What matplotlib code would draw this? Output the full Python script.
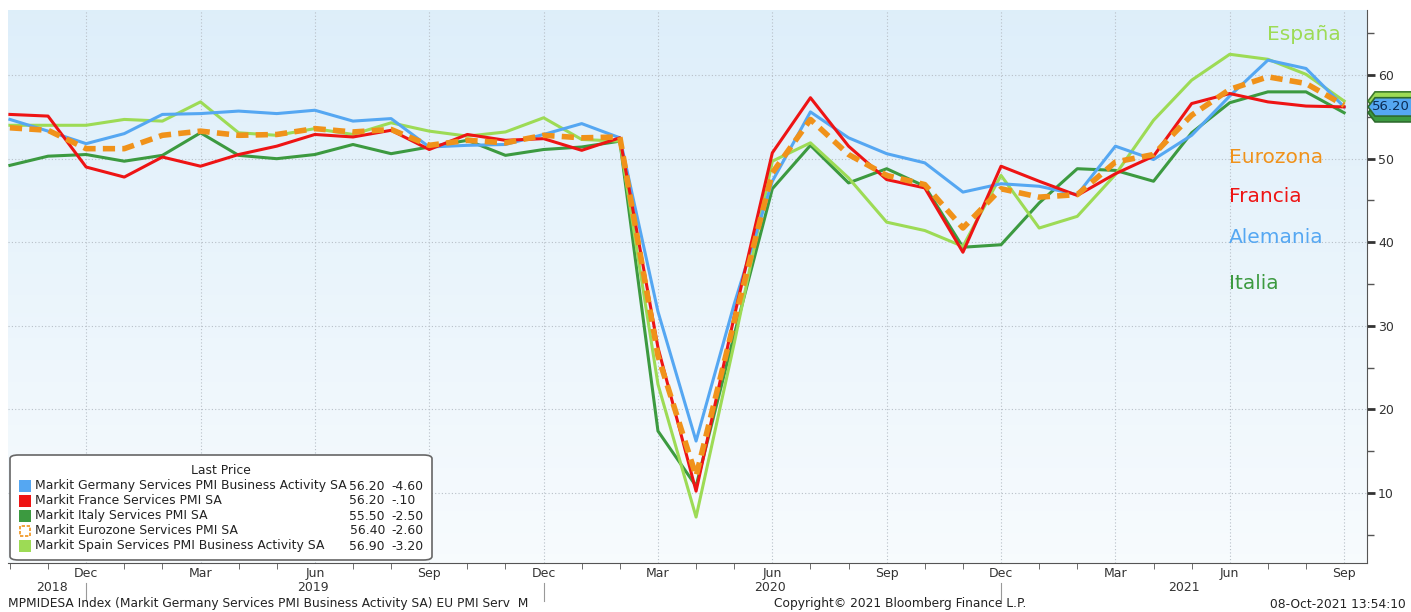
import matplotlib
matplotlib.use("Agg")
import matplotlib.pyplot as plt
import matplotlib.transforms as mtransforms
from matplotlib.patches import FancyBboxPatch, Rectangle, Polygon
import numpy as np

# monthly data, Oct 2018 .. Sep 2021
months = ["Oct", "Nov", "Dec", "Jan", "Feb", "Mar", "Apr", "May", "Jun", "Jul", "Aug", "Sep"] * 3
germany = [54.7, 53.3, 51.8, 53.0, 55.3, 55.4, 55.7, 55.4, 55.8, 54.5, 54.8, 51.4,
           51.6, 51.7, 52.9, 54.2, 52.5, 31.7, 16.2, 32.6, 47.3, 55.6, 52.5, 50.6,
           49.5, 46.0, 47.0, 46.7, 45.7, 51.5, 49.9, 52.8, 57.5, 61.8, 60.8, 56.2]
france = [55.3, 55.1, 49.0, 47.8, 50.2, 49.1, 50.5, 51.5, 52.9, 52.6, 53.4, 51.1,
          52.9, 52.2, 52.4, 51.0, 52.5, 27.4, 10.2, 31.1, 50.7, 57.3, 51.5, 47.5,
          46.5, 38.8, 49.1, 47.3, 45.6, 48.2, 50.3, 56.6, 57.8, 56.8, 56.3, 56.2]
italy = [49.2, 50.3, 50.5, 49.7, 50.4, 53.1, 50.4, 50.0, 50.5, 51.7, 50.6, 51.4,
         52.2, 50.4, 51.1, 51.4, 52.1, 17.4, 10.8, 28.9, 46.4, 51.6, 47.1, 48.8,
         46.7, 39.4, 39.7, 44.7, 48.8, 48.6, 47.3, 53.1, 56.7, 58.0, 58.0, 55.5]
eurozone = [53.7, 53.4, 51.2, 51.2, 52.8, 53.3, 52.8, 52.9, 53.6, 53.2, 53.5, 51.6,
            52.2, 51.9, 52.8, 52.5, 52.6, 26.4, 12.0, 30.5, 48.3, 54.7, 50.5, 48.0,
            46.9, 41.7, 46.4, 45.4, 45.7, 49.6, 50.5, 55.2, 58.3, 59.8, 59.0, 56.4]
spain = [54.0, 54.0, 54.0, 54.7, 54.5, 56.8, 53.1, 52.8, 53.6, 52.9, 54.3, 53.3,
         52.7, 53.2, 54.9, 52.3, 52.1, 23.0, 7.1, 27.9, 49.7, 51.9, 47.7, 42.4,
         41.4, 39.5, 48.0, 41.7, 43.1, 48.1, 54.6, 59.4, 62.5, 61.9, 60.1, 56.9]
years = ["2018", "2019", "2020", "2021"]
year_pos = [1.1, 7.95, 19.95, 30.8]

legend_names = ["Markit Germany Services PMI Business Activity SA",
                "Markit France Services PMI SA",
                "Markit Italy Services PMI SA",
                "Markit Eurozone Services PMI SA",
                "Markit Spain Services PMI Business Activity SA"]
changes = ["-4.60", "-.10", "-2.50", "-2.60", "-3.20"]

c_ger = "#55a7f2"
c_fra = "#ee1414"
c_ita = "#3c9a40"
c_eur = "#f0921a"
c_spa = "#9ddb55"

W, H = 1411, 612
fig = plt.figure(figsize=(W / 100, H / 100), dpi=100)
plt.rcParams['font.family'] = ['DejaVu Sans']

def fx(px):
    return px / W

def fy(py):
    return 1 - py / H

ax = fig.add_axes([fx(8), fy(563), fx(1367) - fx(8), fy(10) - fy(563)])
x = np.arange(len(germany))

# background gradient
grad = np.linspace(0, 1, 256).reshape(-1, 1)
top = np.array([0.87, 0.935, 0.98])
bot = np.array([0.97, 0.985, 0.995])
img = top * (1 - grad[..., None]) + bot * grad[..., None]
img = np.repeat(img, 2, axis=1)
ax.imshow(img, extent=[0, 1, 0, 1], transform=ax.transAxes, aspect="auto", zorder=0)

ax.plot(x, italy, color=c_ita, lw=2.2, zorder=3)
ax.plot(x, spain, color=c_spa, lw=2.2, zorder=3)
ax.plot(x, germany, color=c_ger, lw=2.2, zorder=3)
ax.plot(x, france, color=c_fra, lw=2.2, zorder=4)
ax.plot(x, eurozone, color=c_eur, lw=4, dashes=(2.2, 1.3), zorder=5)

ax.set_xlim(-0.05, 35.6)
ax.set_ylim(1.6, 67.8)

# axes style
for s in ["left", "top"]:
    ax.spines[s].set_visible(False)
ax.spines["right"].set_color("#555555")
ax.spines["bottom"].set_color("#555555")
ax.yaxis.tick_right()
ax.set_yticks([10, 20, 30, 40, 50, 60])
ax.set_yticks([5, 15, 25, 35, 45, 55, 65], minor=True)
ax.tick_params(axis="y", which="major", direction="out", length=6, width=2,
               color="#333333", labelsize=9, pad=2, labelcolor="#333333")
ax.tick_params(axis="y", which="minor", direction="out", length=5, width=1, color="#555555")

q = [i for i in x if months[i] in ("Dec", "Mar", "Jun", "Sep")]
ax.set_xticks(q)
ax.set_xticklabels([months[i] for i in q])
ax.set_xticks(x, minor=True)
ax.tick_params(axis="x", which="major", length=0, labelsize=9, pad=3, labelcolor="#333333")
ax.tick_params(axis="x", which="minor", direction="out", length=4, color="#555555")
ax.grid(True, which="major", color="#b8c0c8", linestyle=(0, (1, 2)), lw=0.8, zorder=1)

# year labels and separators
tr = ax.get_xaxis_transform()
for yl, yp in zip(years, year_pos):
    ax.text(yp, -0.045, yl, transform=tr, ha="center", va="center", fontsize=9, color="#333333")
for i in x:
    if months[i] == "Dec":
        ax.plot([i, i], [-0.036, -0.068], transform=tr, color="#999999", lw=0.8, clip_on=False)

# series names on the right
ax.text(32.98, 64.9, "España", color=c_spa, fontsize=14.5, va="center", ha="left")
ax.text(31.97, 50.2, "Eurozona", color=c_eur, fontsize=14.5, va="center", ha="left")
ax.text(31.97, 45.5, "Francia", color=c_fra, fontsize=14.5, va="center", ha="left")
ax.text(31.97, 40.6, "Alemania", color=c_ger, fontsize=14.5, va="center", ha="left")
ax.text(31.97, 35.0, "Italia", color=c_ita, fontsize=14.5, va="center", ha="left")

# last value tags: green ones behind, blue one with text on top
ptr = mtransforms.blended_transform_factory(fig.transFigure, ax.transData)
def tag_shape(val, fc, ec, z):
    h = 1.1
    pts = [(fx(1368), val), (fx(1375), val + h), (fx(1412), val + h),
           (fx(1412), val - h), (fx(1375), val - h)]
    ax.add_patch(Polygon(pts, closed=True, transform=ptr, fc=fc, ec=ec, lw=1.2,
                         clip_on=False, zorder=z))

tag_shape(spain[-1], c_spa, "#3d7a2e", 6)
tag_shape(italy[-1], c_ita, "#2e6b2e", 6)
tag_shape(germany[-1], c_ger, "#2e6b2e", 7)
ax.text(fx(1391), germany[-1], f"{germany[-1]:.2f}", transform=ptr, fontsize=9.5, color="#0c2c55",
        va="center", ha="center", clip_on=False, zorder=8)

# legend box
box = FancyBboxPatch((fx(10), fy(560)), fx(432) - fx(10), fy(455) - fy(560),
                     boxstyle="round,pad=0,rounding_size=0.006", transform=fig.transFigure,
                     fc="white", ec="#666666", lw=1.2, zorder=10)
fig.patches.append(box)
fig.text(fx(221), fy(471), "Last Price", ha="center", va="center", fontsize=8.9, color="#222222", zorder=11)
last_vals = [germany[-1], france[-1], italy[-1], eurozone[-1], spain[-1]]
cols = [c_ger, c_fra, c_ita, c_eur, c_spa]
row_y = [486, 501, 516, 531, 546]
for k, (nm, lv, ch, col, ry) in enumerate(zip(legend_names, last_vals, changes, cols, row_y)):
    if k == 3:
        sq = Rectangle((fx(20), fy(ry + 5)), fx(10), fy(ry - 5) - fy(ry + 5), transform=fig.transFigure,
                       fc="white", ec=col, lw=1.2, ls=(0, (2, 1)), zorder=11)
    else:
        sq = Rectangle((fx(19), fy(ry + 6)), fx(12), fy(ry - 6) - fy(ry + 6), transform=fig.transFigure,
                       fc=col, ec="none", zorder=11)
    fig.patches.append(sq)
    fig.text(fx(35), fy(ry), nm, ha="left", va="center", fontsize=8.9, color="#222222", zorder=11)
    fig.text(fx(385), fy(ry), f"{lv:.2f}", ha="right", va="center", fontsize=8.9, color="#222222", zorder=11)
    fig.text(fx(391), fy(ry), ch, ha="left", va="center", fontsize=8.9, color="#222222", zorder=11)

# footer
fig.text(fx(8), fy(604), "MPMIDESA Index (Markit Germany Services PMI Business Activity SA) EU PMI Serv  M",
         ha="left", va="center", fontsize=8.8, color="#222222")
fig.text(fx(900), fy(604), "Copyright© 2021 Bloomberg Finance L.P.", ha="center", va="center",
         fontsize=8.8, color="#222222")
fig.text(fx(1406), fy(604), "08-Oct-2021 13:54:10", ha="right", va="center", fontsize=8.8, color="#222222")

fig.savefig("out.png", dpi=100)
